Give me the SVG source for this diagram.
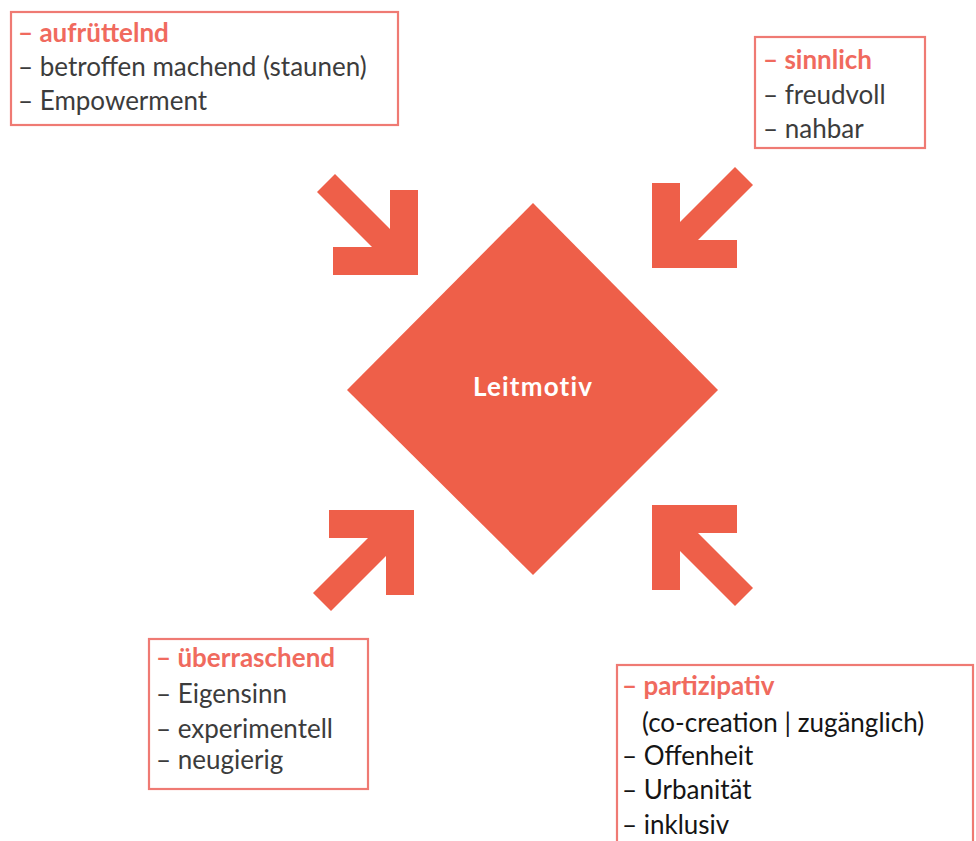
<svg xmlns="http://www.w3.org/2000/svg" xmlns:xlink="http://www.w3.org/1999/xlink" width="976" height="841" viewBox="0 0 976 841">
<style>
.box{fill:#fff;stroke:#ef7a73;stroke-width:2.2}
.t{font-family:Lato,"Open Sans","Liberation Sans",sans-serif;font-size:26px;fill:#3c3c3c}
.h{fill:#f06a5e;font-weight:700}
.k{fill:#151515}
.shape{fill:#ee5f49}
.lbl{font-family:Lato,"Open Sans","Liberation Sans",sans-serif;font-size:26px;font-weight:700;fill:#fff;letter-spacing:1.2px}
</style>
<defs>
<path id="arrow" class="shape" d="M-83,-101 L-28,-46 L-28,-85 L0,-85 L0,0 L-85,0 L-85,-28 L-46,-28 L-101,-83 Z"/>
</defs>
<rect width="976" height="841" fill="#fff"/>
<g id="connectors">
<use xlink:href="#arrow" href="#arrow" transform="translate(418,275)"/>
<use xlink:href="#arrow" href="#arrow" transform="translate(652,268) scale(-1,1)"/>
<use xlink:href="#arrow" href="#arrow" transform="translate(414,510) scale(1,-1)"/>
<use xlink:href="#arrow" href="#arrow" transform="translate(652,505) scale(-1,-1)"/>
</g>
<g id="leitmotiv">
<polygon class="shape" points="533,203 718,390 533,575 347,390"/>
<text class="lbl" x="533" y="396" text-anchor="middle">Leitmotiv</text>
</g>
<g id="aufruettelnd">
<rect class="box" x="11" y="12" width="387" height="113"/>
<text class="t h" x="18" y="42">– aufrüttelnd</text>
<text class="t" x="18" y="76">– betroffen machend (staunen)</text>
<text class="t" x="18" y="110">– Empowerment</text>
</g>
<g id="sinnlich">
<rect class="box" x="755" y="37" width="170" height="111"/>
<text class="t h" x="763" y="69">– sinnlich</text>
<text class="t" x="763" y="104">– freudvoll</text>
<text class="t" x="763" y="138">– nahbar</text>
</g>
<g id="ueberraschend">
<rect class="box" x="149" y="639" width="219" height="150"/>
<text class="t h" x="156" y="667">– überraschend</text>
<text class="t" x="156" y="703">– Eigensinn</text>
<text class="t" x="156" y="738">– experimentell</text>
<text class="t" x="156" y="769">– neugierig</text>
</g>
<g id="partizipativ">
<rect class="box" x="617" y="665" width="356" height="200"/>
<text class="t h" x="622" y="695">– partizipativ</text>
<text class="t k" x="642" y="732">(co-creation | zugänglich)</text>
<text class="t k" x="622" y="765">– Offenheit</text>
<text class="t k" x="622" y="799">– Urbanität</text>
<text class="t k" x="622" y="834">– inklusiv</text>
</g>
</svg>
